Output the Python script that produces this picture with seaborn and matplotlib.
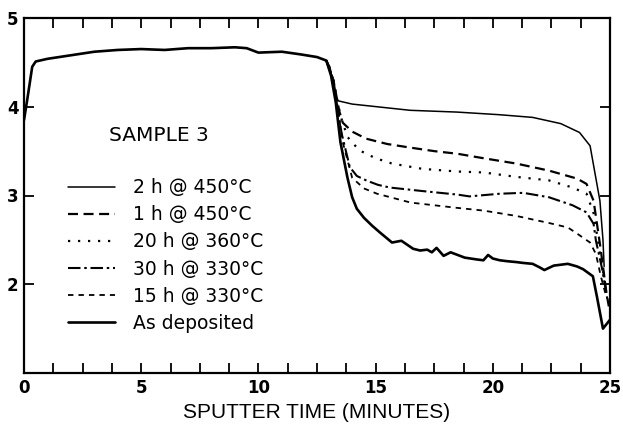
import matplotlib
matplotlib.use("Agg")
import matplotlib.pyplot as plt
import seaborn as sns
import pandas as pd
from matplotlib.ticker import MultipleLocator, FixedLocator

# ---- data ----
labels = ["2 h @ 450°C", "1 h @ 450°C", "20 h @ 360°C", "30 h @ 330°C",
          "15 h @ 330°C", "As deposited"]

x_2h450 = [12.9, 13.05, 13.2, 13.35, 14.0, 15.06, 16.47, 18.47, 20.3, 21.7, 22.9, 23.7, 24.15, 24.36, 24.57, 24.7, 24.75]
y_2h450 = [4.52, 4.45, 4.25, 4.07, 4.03, 4.00, 3.96, 3.94, 3.91, 3.88, 3.81, 3.71, 3.56, 3.25, 2.94, 2.5, 2.2]

x_1h450 = [12.9, 13.2, 13.45, 13.6, 14.0, 14.6, 15.5, 16.47, 17.5, 18.5, 19.6, 21.0, 22.4, 23.6, 24.0, 24.3, 24.6, 24.85, 24.95]
y_1h450 = [4.52, 4.30, 3.95, 3.82, 3.72, 3.64, 3.58, 3.54, 3.50, 3.47, 3.42, 3.36, 3.28, 3.19, 3.13, 2.94, 2.40, 1.90, 1.75]

x_20h360 = [12.9, 13.2, 13.5, 13.8, 14.3, 15.0, 15.7, 17.0, 18.5, 19.6, 21.0, 22.4, 23.4, 24.0, 24.3, 24.6, 24.8]
y_20h360 = [4.52, 4.30, 3.90, 3.66, 3.51, 3.42, 3.36, 3.30, 3.27, 3.26, 3.21, 3.17, 3.09, 3.02, 2.80, 2.30, 2.00]

x_30h330 = [12.9, 13.2, 13.55, 13.9, 14.2, 14.6, 15.1, 15.6, 17.0, 18.5, 19.0, 20.3, 21.3, 22.4, 23.4, 24.0, 24.3, 24.4, 24.65, 24.9]
y_30h330 = [4.52, 4.30, 3.70, 3.32, 3.22, 3.17, 3.12, 3.09, 3.05, 3.01, 2.99, 3.02, 3.03, 2.98, 2.89, 2.81, 2.68, 2.49, 2.19, 1.81]

x_15h330 = [12.9, 13.2, 13.6, 14.0, 14.5, 15.06, 16.5, 18.5, 19.6, 21.0, 22.4, 23.2, 23.6, 24.15, 24.4, 24.6, 24.8]
y_15h330 = [4.52, 4.30, 3.60, 3.20, 3.08, 3.02, 2.92, 2.86, 2.83, 2.77, 2.69, 2.64, 2.57, 2.47, 2.34, 2.10, 1.90]

x_asdep = [0.0, 0.15, 0.35, 0.5, 1.0, 2.0, 3.0, 4.0, 5.0, 6.0, 7.0, 8.0, 9.0, 9.5, 10.0, 11.0, 11.8, 12.5, 12.9,
           13.1, 13.3, 13.5, 13.8, 14.0, 14.2, 14.5, 14.85, 15.2, 15.7, 16.1, 16.6, 16.9, 17.2, 17.4, 17.6, 17.9,
           18.2, 18.5, 18.8, 19.3, 19.6, 19.8, 20.0, 20.3, 20.6, 21.0, 21.3, 21.7, 22.0, 22.2, 22.6, 23.2, 23.6,
           23.85, 24.27, 24.45, 24.7, 25.0]
y_asdep = [3.85, 4.10, 4.45, 4.51, 4.54, 4.58, 4.62, 4.64, 4.65, 4.64, 4.66, 4.66, 4.67, 4.66, 4.61, 4.62, 4.59, 4.56, 4.52,
           4.35, 4.05, 3.60, 3.20, 2.98, 2.85, 2.75, 2.66, 2.58, 2.47, 2.49, 2.40, 2.38, 2.39, 2.36, 2.41, 2.32,
           2.36, 2.33, 2.30, 2.28, 2.27, 2.33, 2.29, 2.27, 2.26, 2.25, 2.24, 2.23, 2.19, 2.16, 2.21, 2.23, 2.20,
           2.17, 2.09, 1.85, 1.50, 1.60]

xticks = [0, 5, 10, 15, 20, 25]
yticks = [2, 3, 4, 5]
xlabel = "SPUTTER TIME (MINUTES)"
annotation = "SAMPLE 3"

series_x = [x_2h450, x_1h450, x_20h360, x_30h330, x_15h330, x_asdep]
series_y = [y_2h450, y_1h450, y_20h360, y_30h330, y_15h330, y_asdep]

# ---- styles ----
styles = [
    dict(lw=1.1, ls="-"),
    dict(lw=1.6, ls=(0, (4.5, 2.5))),
    dict(lw=1.6, ls=(0, (1, 3.5))),
    dict(lw=1.5, ls=(0, (6, 1.8, 1.2, 1.8))),
    dict(lw=1.3, ls=(0, (3, 2.8))),
    dict(lw=1.9, ls="-"),
]

sns.set_style("ticks")
plt.rcParams["font.family"] = ["DejaVu Sans"]
plt.rcParams["text.color"] = "black"
plt.rcParams["axes.labelcolor"] = "black"
plt.rcParams["xtick.color"] = "black"
plt.rcParams["ytick.color"] = "black"
plt.rcParams["axes.edgecolor"] = "black"

fig = plt.figure(figsize=(6.23, 4.32), dpi=100)
ax = fig.add_axes([24 / 623, (432 - 373) / 432, 586 / 623, 355 / 432])

for lab, xs, ys, st in zip(labels, series_x, series_y, styles):
    df = pd.DataFrame({"x": xs, "y": ys})
    sns.lineplot(data=df, x="x", y="y", ax=ax, color="black", linewidth=st["lw"],
                 linestyle=st["ls"], label=lab, estimator=None, sort=False)

ax.set_xlim(0, 25)
ax.set_ylim(1, 5)
ax.xaxis.set_major_locator(FixedLocator(xticks))
ax.xaxis.set_minor_locator(MultipleLocator(1.25))
ax.yaxis.set_major_locator(FixedLocator(yticks))
ax.set_xticklabels([str(t) for t in xticks], fontsize=12, fontweight="bold")
ax.set_yticklabels([str(t) for t in yticks], fontsize=12, fontweight="bold")
ax.tick_params(axis="x", which="both", direction="in", top=True, length=7, width=1.3, pad=4)
ax.tick_params(axis="y", which="both", direction="in", right=True, length=7, width=1.3, pad=4)
for sp in ax.spines.values():
    sp.set_linewidth(1.6)
    sp.set_visible(True)

ax.set_xlabel(xlabel, fontsize=15, family=["Liberation Sans", "DejaVu Sans"], labelpad=5)
ax.set_ylabel("")

ax.text(5.76, 3.68, annotation, fontsize=14.5, ha="center", va="center")

leg = ax.legend(loc="upper left", bbox_to_anchor=(0.075, 0.549), frameon=False,
                fontsize=13.5, handlelength=2.5, handletextpad=0.95, labelspacing=0.435,
                borderpad=0, borderaxespad=0)
for h in leg.get_lines():
    h.set_color("black")

fig.savefig("out.png", dpi=100)
